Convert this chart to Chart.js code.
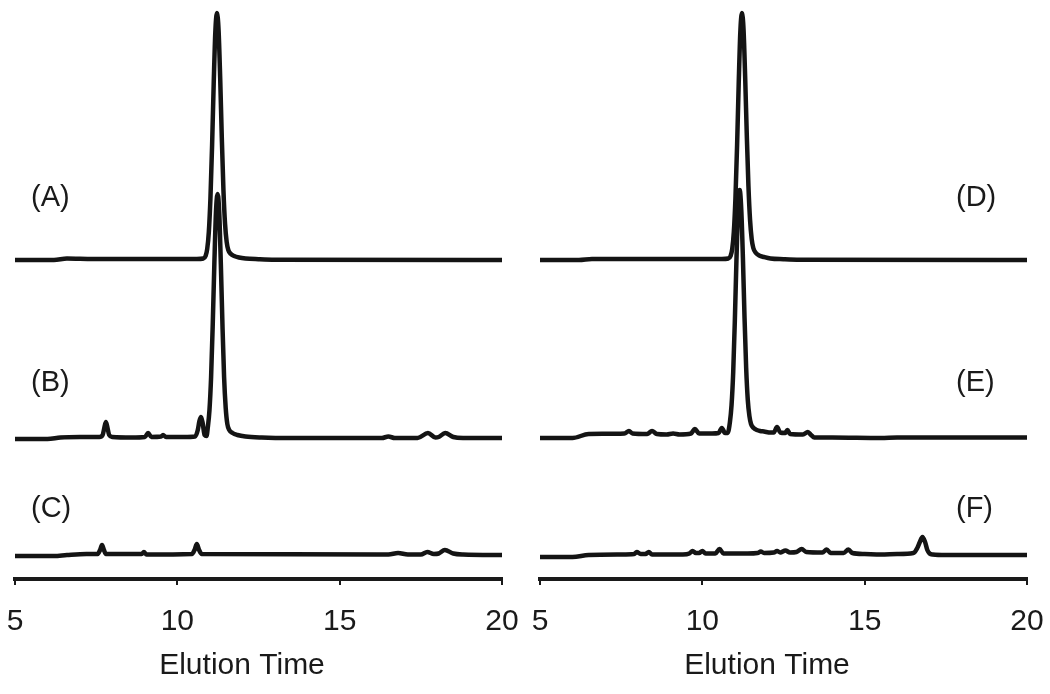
<!DOCTYPE html>
<html lang="en">
	<head>
		<meta charset="UTF-8" />
		<title>Elution Profiles</title>
		<script src="https://cdn.jsdelivr.net/npm/chart.js"></script>
		<style>
			body {
				margin: 0;
				background: #ffffff;
				font-family: "Liberation Sans", Arial, sans-serif;
			}
			.panel {
				position: absolute;
				top: 0;
				width: 525px;
				height: 694px;
			}
		</style>
	</head>
	<body>
		<div class="panel" style="left: 0"><canvas id="leftChart" width="525" height="694"></canvas></div>
		<div class="panel" style="left: 525px"><canvas id="rightChart" width="525" height="694"></canvas></div>

		<script>
			// x axis (elution time)
			const xTicks = [5, 10, 15, 20];
			const axisTitle = "Elution Time";

			// trace names and vertical stacking offsets (same units as signal)
			const leftNames = ["(A)", "(B)", "(C)"];
			const rightNames = ["(D)", "(E)", "(F)"];
			const leftOffsets = [319, 141, 24];
			const rightOffsets = [319, 141, 22];

			// (A)
			const timeA = [5, 6.2, 6.6, 7.4, 10.6, 10.8, 10.87, 10.92, 10.97, 11.02, 11.07, 11.12, 11.17, 11.22, 11.27, 11.32, 11.37, 11.42, 11.47, 11.52, 11.57, 11.65, 11.75, 11.9, 12.1, 12.5, 13.0, 20];
			const sigA = [0, 0, 1.5, 1, 1, 1.5, 4, 11, 28, 62, 114, 176, 228, 247, 230, 182, 122, 70, 36, 18, 10, 6, 4, 2.5, 1.5, 0.8, 0.3, 0];

			// (B)
			const timeB = [5, 6.0, 6.4, 7.0, 7.6, 7.7, 7.75, 7.8, 7.85, 7.9, 8.0, 8.6, 9.0, 9.1, 9.2, 9.5, 9.56, 9.65, 10.2, 10.55, 10.63, 10.68, 10.73, 10.78, 10.84, 10.9, 10.94, 10.99, 11.04, 11.09, 11.14, 11.19, 11.24, 11.29, 11.34, 11.39, 11.44, 11.49, 11.54, 11.6, 11.7, 11.85, 12.1, 12.6, 13.5, 16.3, 16.5, 16.7, 17.4, 17.72, 17.95, 18.05, 18.25, 18.5, 18.8, 20];
			const sigB = [-1, -1, 0.5, 1, 1, 3, 10, 16, 10, 3, 1, 0.5, 1, 5, 1, 1.5, 3, 1, 1, 1.5, 8, 17, 21, 15, 3, 2, 11, 28, 61, 113, 174, 226, 244, 226, 174, 113, 61, 30, 14, 8, 5, 3, 1.5, 0.5, 0, 0, 1.5, 0, 0, 5, 0.5, 1, 5, 1, 0, 0];

			// (C)
			const timeC = [5, 6.2, 6.6, 7.2, 7.55, 7.62, 7.68, 7.74, 7.8, 8.9, 8.97, 9.05, 10.45, 10.53, 10.6, 10.67, 10.75, 16.5, 16.8, 17.1, 17.5, 17.7, 17.9, 18.05, 18.24, 18.5, 18.8, 20];
			const sigC = [-1, -1, 0, 1, 1, 5, 10, 5, 1, 1, 3, 0.5, 1, 5, 11, 5, 1, 0.5, 2, 0.5, 0.5, 3, 1, 1.5, 5, 1.5, 0.5, 0];

			// (D)
			const timeD = [5, 6.2, 6.6, 7.5, 10.6, 10.8, 10.87, 10.92, 10.97, 11.02, 11.07, 11.12, 11.17, 11.22, 11.27, 11.32, 11.37, 11.42, 11.47, 11.52, 11.57, 11.65, 11.75, 11.9, 12.1, 12.5, 13.0, 20];
			const sigD = [0, 0, 1, 1, 1, 1.5, 4, 11, 28, 62, 114, 176, 228, 247, 230, 182, 124, 74, 40, 21, 12, 7, 4.5, 3, 1.5, 0.8, 0.3, 0];

			// (E)
			const timeE = [5, 6.0, 6.5, 7.6, 7.74, 7.85, 8.3, 8.45, 8.6, 8.9, 9.1, 9.3, 9.65, 9.77, 9.9, 10.3, 10.5, 10.6, 10.7, 10.78, 10.85, 10.9, 10.95, 11.0, 11.05, 11.1, 11.15, 11.2, 11.25, 11.3, 11.35, 11.4, 11.45, 11.5, 11.58, 11.68, 11.78, 11.9, 12.1, 12.2, 12.3, 12.4, 12.55, 12.62, 12.7, 13.1, 13.25, 13.35, 13.45, 14.0, 15.5, 16.0, 17.0, 20];
			const sigE = [0, 0, 4, 4.5, 7, 4.5, 4, 7, 4, 3.5, 4.5, 3.5, 4.5, 9, 4.5, 4.5, 5, 10, 5, 5, 16, 33, 65, 116, 177, 228, 248, 228, 180, 120, 70, 38, 22, 14, 10, 8, 7, 6.5, 5.5, 5.5, 11, 5.5, 5, 8, 4, 3.5, 6, 3, 0.5, 0.5, 0, 0.5, 0.5, 0.5];

			// (F)
			const timeF = [5, 6.0, 6.5, 7.5, 7.9, 7.98, 8.1, 8.25, 8.35, 8.45, 9.4, 9.6, 9.7, 9.8, 9.9, 10.0, 10.1, 10.4, 10.53, 10.65, 11.4, 11.7, 11.8, 11.9, 12.2, 12.3, 12.4, 12.56, 12.7, 12.9, 13.06, 13.2, 13.7, 13.83, 13.95, 14.35, 14.5, 14.62, 15.0, 15.5, 16.0, 16.5, 16.62, 16.7, 16.78, 16.86, 16.93, 17.0, 17.1, 17.5, 20];
			const sigF = [0, 0, 2, 2.5, 3, 5, 3, 3, 5, 2.5, 2.5, 3.5, 6, 4, 4, 6, 3.5, 3.5, 8, 3.5, 3.5, 4, 5.5, 4, 4.5, 6, 4.5, 6.5, 4.5, 5, 8, 5, 4.5, 7.5, 4, 4, 7.5, 4, 3, 2.5, 3, 4, 9, 15, 20, 15, 7, 3.5, 2.5, 2, 2];

			const lineColor = "#141414";

			function makeSet(times, sig, offset) {
				return {
					data: times.map((t, i) => ({ x: t, y: sig[i] + offset })),
					borderColor: lineColor,
					borderWidth: 4.5,
					pointRadius: 0,
					fill: false,
					cubicInterpolationMode: "monotone",
					borderCapStyle: "round",
					borderJoinStyle: "round",
				};
			}

			// draws the (A)..(F) tags and the axis title
			const textPlugin = {
				id: "panelText",
				afterDraw(chart, args, opts) {
					const ctx = chart.ctx;
					ctx.save();
					ctx.fillStyle = "#1a1a1a";
					ctx.font = '29px "Liberation Sans", Arial, sans-serif';
					ctx.textBaseline = "middle";
					ctx.textAlign = "left";
					opts.names.forEach((n, i) => {
						ctx.fillText(n, opts.nameX, opts.nameY[i]);
					});
					ctx.font = '30px "Liberation Sans", Arial, sans-serif';
					ctx.textAlign = "center";
					ctx.fillText(axisTitle, opts.titleX, opts.titleY);
					ctx.restore();
				},
			};

			function makeChart(id, sets, names, nameX) {
				return new Chart(document.getElementById(id), {
					type: "line",
					data: { datasets: sets },
					options: {
						responsive: false,
						animation: false,
						devicePixelRatio: 1,
						layout: { padding: { left: 15, right: 23, top: 0, bottom: 0 } },
						plugins: {
							legend: { display: false },
							tooltip: { enabled: false },
							panelText: {
								names: names,
								nameX: nameX,
								nameY: [198, 383, 509],
								titleX: 242,
								titleY: 666,
							},
						},
						scales: {
							x: {
								type: "linear",
								min: 5,
								max: 20,
								afterBuildTicks: (scale) => {
									scale.ticks = xTicks.map((v) => ({ value: v }));
								},
								afterFit: (scale) => {
									scale.height = 115;
									scale.paddingLeft = 0;
									scale.paddingRight = 0;
								},
								ticks: {
									color: "#1a1a1a",
									font: { size: 30, family: '"Liberation Sans", Arial, sans-serif' },
									padding: 19,
									maxRotation: 0,
									autoSkip: false,
								},
								grid: {
									display: true,
									drawOnChartArea: false,
									drawTicks: true,
									tickLength: 6,
									color: "#1a1a1a",
									lineWidth: 2,
								},
								border: { display: true, color: "#1a1a1a", width: 4 },
							},
							y: { display: false, min: 0, max: 579 },
						},
					},
					plugins: [textPlugin],
				});
			}

			makeChart(
				"leftChart",
				[makeSet(timeA, sigA, leftOffsets[0]), makeSet(timeB, sigB, leftOffsets[1]), makeSet(timeC, sigC, leftOffsets[2])],
				leftNames,
				31
			);
			makeChart(
				"rightChart",
				[makeSet(timeD, sigD, rightOffsets[0]), makeSet(timeE, sigE, rightOffsets[1]), makeSet(timeF, sigF, rightOffsets[2])],
				rightNames,
				431
			);
		</script>
	</body>
</html>
